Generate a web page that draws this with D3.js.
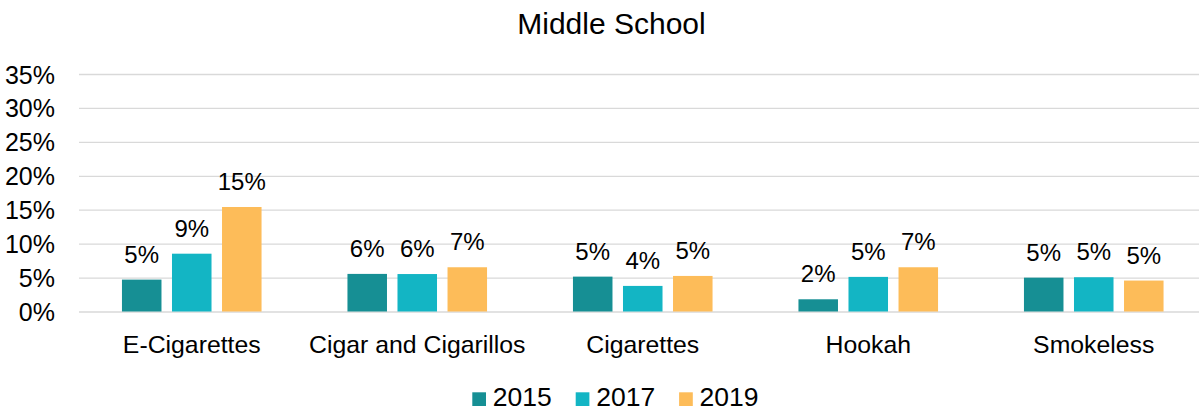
<!DOCTYPE html>
<html>
<head>
<meta charset="utf-8">
<script src="https://cdn.jsdelivr.net/npm/d3@7"></script>
<style>
  html, body { margin: 0; padding: 0; background: #fff; }
  svg { display: block; font-family: "Liberation Sans", Arial, sans-serif; }
</style>
</head>
<body>
<svg id="chart" width="1199" height="411"></svg>
<script>
// Share of middle school students using each tobacco product, by survey year
const categories = ["E-Cigarettes", "Cigar and Cigarillos", "Cigarettes", "Hookah", "Smokeless"];
const years = ["2015", "2017", "2019"];
const values2015 = [0.047, 0.0554, 0.0514, 0.018, 0.0499];
const values2017 = [0.0852, 0.0552, 0.0377, 0.051, 0.0505];
const values2019 = [0.154, 0.0652, 0.0524, 0.0652, 0.0456];
const yTicks = [0, 0.05, 0.10, 0.15, 0.20, 0.25, 0.30, 0.35];
const colors = ["#168f94", "#13b5c4", "#fdbc59"];
const title = "Middle School";

const seriesValues = [values2015, values2017, values2019];
const rows = categories.map((c, i) => ({
  category: c,
  values: years.map((y, j) => ({ year: y, value: seriesValues[j][i], color: colors[j] }))
}));

const svg = d3.select("#chart");

const x0 = d3.scaleBand()
  .domain(categories)
  .range([79, 1206.5])
  .paddingInner(0.381)
  .paddingOuter(0.1905);

const x1 = d3.scaleBand()
  .domain(years)
  .range([0, x0.bandwidth()])
  .paddingInner(0.21)
  .paddingOuter(0);

const y = d3.scaleLinear().domain([0, 0.35]).range([311.5, 74]);
const pct = d3.format(".0%");

// Title
svg.append("text")
  .attr("x", 611.5)
  .attr("y", 34)
  .attr("text-anchor", "middle")
  .attr("font-size", 30)
  .attr("fill", "#000")
  .text(title);

// Horizontal gridlines and y-axis labels
const yAxis = d3.axisLeft(y)
  .tickValues(yTicks)
  .tickFormat(pct)
  .tickSize(-(1206.5 - 79))
  .tickPadding(24);

const gy = svg.append("g")
  .attr("transform", "translate(79,0)")
  .call(yAxis);
gy.select(".domain").remove();
gy.selectAll(".tick line")
  .attr("stroke", "#d9d9d9")
  .attr("stroke-width", 1.3);
gy.selectAll(".tick text")
  .attr("font-size", 25)
  .attr("font-family", "'Liberation Sans', Arial, sans-serif")
  .attr("fill", "#000")
  .attr("dy", 9);

// Bars
const groups = svg.append("g")
  .selectAll("g")
  .data(rows)
  .join("g")
  .attr("transform", d => `translate(${x0(d.category)},0)`);

groups.selectAll("rect")
  .data(d => d.values)
  .join("rect")
  .attr("x", d => x1(d.year))
  .attr("y", d => y(d.value))
  .attr("width", x1.bandwidth())
  .attr("height", d => y(0) - y(d.value))
  .attr("fill", d => d.color);

// Value labels above bars
groups.selectAll("text.value")
  .data(d => d.values)
  .join("text")
  .attr("class", "value")
  .attr("x", d => x1(d.year) + x1.bandwidth() / 2)
  .attr("y", d => y(d.value) - 17)
  .attr("text-anchor", "middle")
  .attr("font-size", 24)
  .attr("fill", "#000")
  .text(d => pct(d.value));

// Category axis labels
const xAxis = d3.axisBottom(x0).tickSize(0).tickPadding(0);
const gx = svg.append("g")
  .attr("transform", "translate(0,311.5)")
  .call(xAxis);
gx.select(".domain").remove();
gx.selectAll(".tick text")
  .attr("font-size", 24.8)
  .attr("font-family", "'Liberation Sans', Arial, sans-serif")
  .attr("fill", "#000")
  .attr("dy", 0)
  .attr("y", 41);

// Legend
const itemPitch = 103.4;
const legendStart = 472.3;
const legend = svg.append("g")
  .selectAll("g")
  .data(years)
  .join("g")
  .attr("transform", (d, i) => `translate(${legendStart + i * itemPitch},0)`);

legend.append("rect")
  .attr("x", 0)
  .attr("y", 392.3)
  .attr("width", 13.7)
  .attr("height", 13.7)
  .attr("fill", (d, i) => colors[i]);

legend.append("text")
  .attr("x", 20.5)
  .attr("y", 406)
  .attr("font-size", 26.5)
  .attr("fill", "#000")
  .text(d => d);
</script>
</body>
</html>
